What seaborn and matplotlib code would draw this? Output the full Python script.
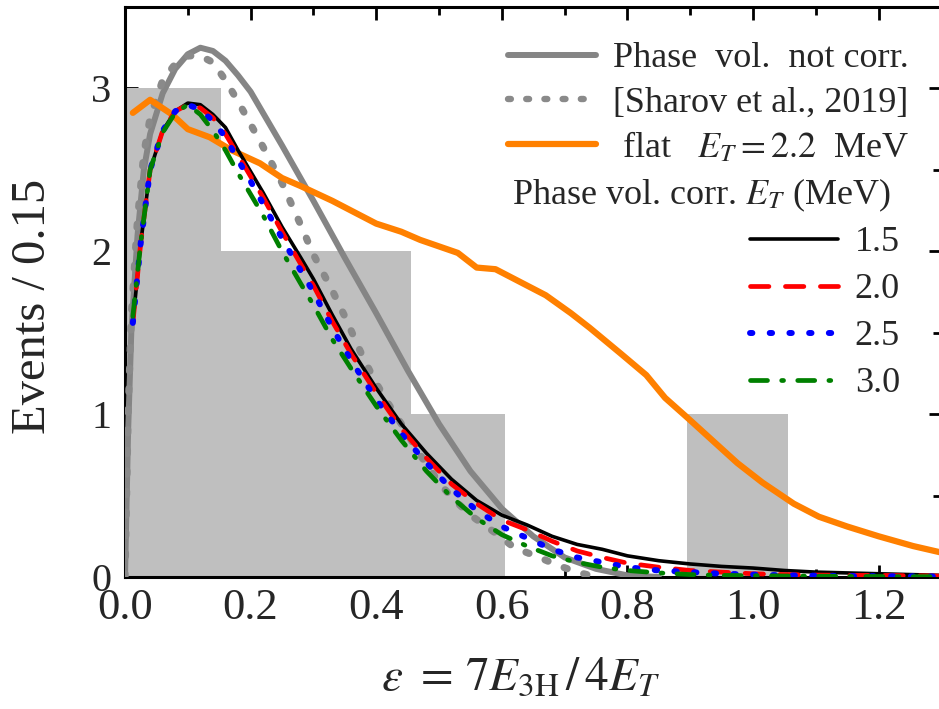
import numpy as np
import pandas as pd
import matplotlib
matplotlib.use("Agg")
import matplotlib.pyplot as plt
import seaborn as sns
from matplotlib.lines import Line2D
from matplotlib.ticker import MultipleLocator

# ---------------- data ----------------
bin_edges = [0.0, 0.153, 0.304, 0.455, 0.605, 0.895, 1.056]
bin_counts = [3, 2, 2, 1, 0, 1]

x_notcorr = [0.0, 0.005, 0.01, 0.02, 0.03, 0.04, 0.06, 0.08, 0.10, 0.12, 0.14, 0.16, 0.18,
             0.20, 0.25, 0.30, 0.35, 0.40, 0.45, 0.50, 0.55, 0.60, 0.65, 0.70, 0.75, 0.80, 0.85]
y_notcorr = [0.0, 0.9, 1.5, 2.1, 2.5, 2.72, 2.97, 3.12, 3.21, 3.25, 3.23, 3.17, 3.08,
             2.98, 2.65, 2.31, 1.96, 1.62, 1.27, 0.94, 0.65, 0.42, 0.25, 0.12, 0.05, 0.01, 0.0]

x_sharov = [0.0, 0.005, 0.01, 0.02, 0.03, 0.04, 0.06, 0.08, 0.10, 0.12, 0.14, 0.16, 0.18, 0.20,
            0.22, 0.25, 0.28, 0.30, 0.33, 0.35, 0.38, 0.40, 0.42, 0.44, 0.47, 0.50, 0.52, 0.55,
            0.59, 0.62, 0.66, 0.69, 0.72, 0.75]
y_sharov = [0.0, 1.0, 1.6, 2.2, 2.6, 2.82, 3.05, 3.15, 3.2, 3.2, 3.16, 3.05, 2.92, 2.78,
            2.64, 2.42, 2.16, 1.98, 1.76, 1.6, 1.34, 1.19, 1.06, 0.94, 0.75, 0.58, 0.49, 0.38,
            0.27, 0.18, 0.12, 0.07, 0.03, 0.0]

x_flat = [0.0125, 0.04, 0.075, 0.10, 0.135, 0.17, 0.215, 0.25, 0.28, 0.33, 0.40, 0.44, 0.47,
          0.53, 0.56, 0.59, 0.62, 0.645, 0.67, 0.71, 0.74, 0.79, 0.83, 0.86, 0.895, 0.935,
          0.975, 1.015, 1.065, 1.105, 1.15, 1.20, 1.255, 1.30]
y_flat = [2.85, 2.93, 2.84, 2.75, 2.7, 2.62, 2.54, 2.45, 2.4, 2.31, 2.17, 2.12, 2.07,
          1.99, 1.9, 1.89, 1.83, 1.78, 1.73, 1.62, 1.53, 1.37, 1.24, 1.1, 0.98, 0.84,
          0.7, 0.58, 0.45, 0.37, 0.31, 0.25, 0.19, 0.15]

x_corr = [0.0125, 0.025, 0.04, 0.06, 0.08, 0.10, 0.12, 0.14, 0.16, 0.18, 0.20, 0.22, 0.25,
          0.28, 0.30, 0.33, 0.36, 0.40, 0.44, 0.48, 0.52, 0.56, 0.60, 0.64, 0.68, 0.72, 0.76,
          0.80, 0.85, 0.90, 0.95, 1.00, 1.05, 1.10, 1.15, 1.20, 1.25, 1.30]
y_e15 = [1.56, 2.05, 2.5, 2.74, 2.86, 2.91, 2.9, 2.84, 2.76, 2.62, 2.49, 2.36, 2.15,
         1.96, 1.83, 1.61, 1.40, 1.16, 0.94, 0.76, 0.6, 0.47, 0.38, 0.32, 0.25, 0.2, 0.17,
         0.13, 0.1, 0.08, 0.065, 0.055, 0.04, 0.03, 0.025, 0.02, 0.015, 0.01]
y_e20 = [1.56, 2.05, 2.5, 2.74, 2.86, 2.9, 2.88, 2.82, 2.72, 2.59, 2.46, 2.33, 2.12,
         1.92, 1.79, 1.57, 1.37, 1.13, 0.91, 0.73, 0.57, 0.45, 0.35, 0.29, 0.22, 0.16, 0.12,
         0.085, 0.06, 0.04, 0.03, 0.02, 0.015, 0.012, 0.01, 0.01, 0.008, 0.006]
y_e25 = [1.56, 2.05, 2.5, 2.74, 2.86, 2.9, 2.87, 2.8, 2.7, 2.56, 2.43, 2.29, 2.08,
         1.88, 1.75, 1.53, 1.33, 1.09, 0.88, 0.7, 0.54, 0.41, 0.31, 0.24, 0.17, 0.12, 0.09,
         0.06, 0.04, 0.03, 0.02, 0.015, 0.01, 0.008, 0.006, 0.005, 0.004, 0.003]
y_e30 = [1.6, 2.05, 2.5, 2.73, 2.85, 2.9, 2.84, 2.74, 2.62, 2.48, 2.35, 2.22, 2.0,
         1.8, 1.67, 1.46, 1.28, 1.05, 0.84, 0.65, 0.49, 0.36, 0.26, 0.19, 0.13, 0.09, 0.06,
         0.04, 0.025, 0.015, 0.01, 0.008, 0.006, 0.005, 0.004, 0.003, 0.002, 0.002]

legend_main = ["Phase  vol.  not corr.", "[Sharov et al., 2019]", r" flat   $E_T = 2.2$  MeV"]
legend_title = r"Phase vol. corr. $E_T$ (MeV)"
et_labels = ["1.5", "2.0", "2.5", "3.0"]

# ---------------- style ----------------
sns.set_theme(style="ticks")
plt.rcParams["font.family"] = ["Liberation Serif", "DejaVu Serif"]
plt.rcParams["mathtext.fontset"] = "stix"
plt.rcParams["axes.linewidth"] = 2.2

W, H = 939, 709
fig = plt.figure(figsize=(W / 100, H / 100), dpi=100)
ax = fig.add_axes([125 / W, 132 / H, 1.3 * 628 / W, 570 / H])

# histogram
centers = [(bin_edges[i] + bin_edges[i + 1]) / 2 for i in range(len(bin_counts))]
sns.histplot(x=centers, weights=bin_counts, bins=bin_edges, color="#bfbfbf",
             alpha=1.0, linewidth=0, edgecolor="none", ax=ax, zorder=1)

gray = "#858585"
gray_dot = "#8a8a8a"
orange = "#ff8000"
st_notcorr = dict(color=gray, lw=4.3, solid_capstyle="round")
st_sharov = dict(color=gray_dot, lw=5.2, linestyle=(0, (0.45, 2.4)), dash_capstyle="round")
st_flat = dict(color=orange, lw=4.5, solid_capstyle="round")

sns.lineplot(x=x_notcorr, y=y_notcorr, ax=ax, sort=False, estimator=None, zorder=3, **st_notcorr)
sns.lineplot(x=x_sharov, y=y_sharov, ax=ax, sort=False, estimator=None, zorder=3, **st_sharov)
sns.lineplot(x=x_flat, y=y_flat, ax=ax, sort=False, estimator=None, zorder=4, **st_flat)

styles = [
    dict(color="black", lw=2.6, linestyle="-"),
    dict(color="#ff0000", lw=3.4, linestyle=(0, (3.9, 3.5)), dash_capstyle="round"),
    dict(color="#0000ff", lw=4.3, linestyle=(0, (0.4, 2.9)), dash_capstyle="round"),
    dict(color="#008000", lw=3.4, linestyle=(0, (3.6, 3.0, 0.4, 3.0)), dash_capstyle="round"),
]
for yv, st in zip([y_e15, y_e20, y_e25, y_e30], styles):
    sns.lineplot(x=x_corr, y=yv, ax=ax, sort=False, estimator=None, zorder=5, **st)

ax.set_xlim(0, 1.3)
ax.set_ylim(0, 3.5)
ax.xaxis.set_major_locator(MultipleLocator(0.2))
ax.xaxis.set_minor_locator(MultipleLocator(0.1))
ax.yaxis.set_major_locator(MultipleLocator(1))
ax.yaxis.set_minor_locator(MultipleLocator(0.5))
ax.set_xticks([0.0, 0.2, 0.4, 0.6, 0.8, 1.0, 1.2])
ax.set_xticklabels(["0.0", "0.2", "0.4", "0.6", "0.8", "1.0", "1.2"])
ax.set_yticks([0, 1, 2, 3])
ax.set_yticklabels(["0", "1", "2", "3"])
ax.tick_params(which="both", direction="in", top=True, right=True, width=2.0, color="black")
ax.tick_params(which="major", length=9, pad=8)
ax.tick_params(axis="x", which="major", labelsize=32)
ax.tick_params(axis="y", which="major", labelsize=29, pad=10)
ax.tick_params(which="minor", length=5.5)
for s in ax.spines.values():
    s.set_color("black")
    s.set_linewidth(2.2)

ax.set_xlabel(r"$\varepsilon\ =\, 7E_{\rm 3H}\,/\,4E_T$", fontsize=34)
ax.xaxis.label.set_va("center")
ax.xaxis.set_label_coords((520 - 125) / 816, (577 - 678) / 570)
ax.set_ylabel("Events / 0.15", fontsize=35)
ax.yaxis.label.set_va("center")
ax.yaxis.set_label_coords((33 - 125) / 816, (577 - 306) / 570)

if ax.get_legend() is not None:
    ax.get_legend().remove()

fs = 26
h1 = [Line2D([], [], **st_notcorr), Line2D([], [], **dict(st_sharov, lw=4.6)),
      Line2D([], [], **st_flat)]
leg1 = ax.legend(h1, legend_main, loc="upper left", bbox_to_anchor=(508 / W, 1 - 42 / H),
                 bbox_transform=fig.transFigure, frameon=False, fontsize=fs,
                 handlelength=2.45, handletextpad=0.45, labelspacing=0.3,
                 borderpad=0, borderaxespad=0)
ax.add_artist(leg1)

fig.text(512 / W, 1 - 195 / H, legend_title, fontsize=fs, ha="left", va="center")

h2 = [Line2D([], [], **st) for st in styles]
leg2 = ax.legend(h2, et_labels, loc="upper left", bbox_to_anchor=(750 / W, 1 - 226 / H),
                 bbox_transform=fig.transFigure, frameon=False, fontsize=fs,
                 handlelength=2.45, handletextpad=0.45, labelspacing=0.38,
                 borderpad=0, borderaxespad=0)

fig.savefig("out.png", dpi=100)
